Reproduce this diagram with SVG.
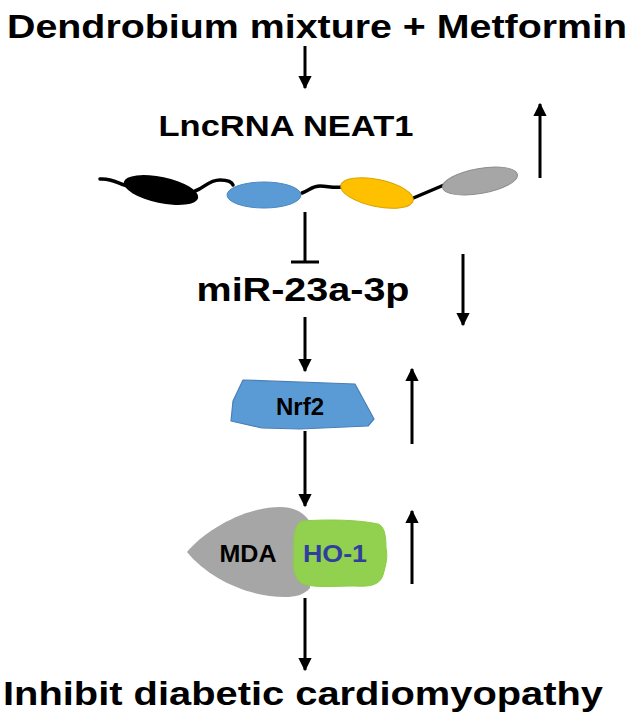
<svg xmlns="http://www.w3.org/2000/svg" width="633" height="726" viewBox="0 0 633 726">
<defs>
<marker id="ah" viewBox="0 0 10 10" refX="9" refY="5" markerWidth="4.6" markerHeight="4.4" orient="auto" markerUnits="strokeWidth">
<path d="M0,0 L10,5 L0,10 Z" fill="#000"/>
</marker>
</defs>
<style>
.t{font-family:"Liberation Sans",Arial,sans-serif;font-weight:bold;fill:#000}
.c{stroke:#000;stroke-width:3;fill:none}
.a{stroke:#000;stroke-width:3;fill:none;marker-end:url(#ah)}
.rna{stroke:#000;stroke-width:3.5;fill:none;stroke-linecap:round}
</style>
<rect width="633" height="726" fill="#fff"/>

<g id="drug"><text class="t" x="317" y="38" font-size="34" text-anchor="middle" textLength="620" lengthAdjust="spacingAndGlyphs">Dendrobium mixture + Metformin</text></g>

<g id="neat1">
<text class="t" x="286" y="136" font-size="30" text-anchor="middle" textLength="255" lengthAdjust="spacingAndGlyphs">LncRNA NEAT1</text>
<path class="rna" d="M100,179 C115,178 120,186 130,186"/>
<path class="rna" d="M195,191 C205,188 208,180 220,180 C228,180 232,182 233,185"/>
<path class="rna" d="M302,193 C310,190 312,186 320,186 C328,186 332,188 342,187"/>
<path class="rna" d="M411,199 L444,185"/>
<ellipse cx="161" cy="190" rx="38" ry="13" transform="rotate(12 161 190)" fill="#000"/>
<ellipse cx="264" cy="195" rx="37" ry="13" fill="#5b9bd5" stroke="#4a86c0" stroke-width="1"/>
<ellipse cx="377" cy="193" rx="37" ry="13.5" transform="rotate(12 377 193)" fill="#ffc000" stroke="#d9a300" stroke-width="1"/>
<ellipse cx="480" cy="181" rx="38" ry="12.5" transform="rotate(-10 480 181)" fill="#a6a6a6" stroke="#8e8e8e" stroke-width="1"/>
</g>

<g id="mir"><text class="t" x="303" y="301" font-size="33" text-anchor="middle" textLength="213" lengthAdjust="spacingAndGlyphs">miR-23a-3p</text></g>

<g id="nrf2">
<path d="M243,380 L355,384 L374,419 L368,426 L300,429 L262,428 L231,421 L233,401 Z" fill="#5b9bd5" stroke="#4a7fb5" stroke-width="1.2" stroke-linejoin="round"/>
<text class="t" x="300" y="415" font-size="24" text-anchor="middle">Nrf2</text>
</g>

<g id="mda">
<path d="M187,552 C205,530 245,507 280,507 C296,507 305,514 310,522 L310,588 C304,595 295,597 285,597 C250,597 210,580 187,552 Z" fill="#a6a6a6"/>
<text class="t" x="248" y="562" font-size="24" text-anchor="middle" textLength="57" lengthAdjust="spacingAndGlyphs">MDA</text>
</g>

<g id="ho1">
<path d="M302,521 C330,519 360,520 378,524 C385,526 386,538 386,548 C388,556 386,565 383,575 C380,585 370,587 355,586 C335,586 315,588 303,584 C294,580 292,565 294,552 C293,538 294,524 302,521 Z" fill="#92d050" stroke="#8ccd45" stroke-width="1"/>
<text class="t" x="335" y="562" font-size="24" text-anchor="middle" textLength="64" lengthAdjust="spacingAndGlyphs" style="fill:#2f3f9e">HO-1</text>
</g>

<g id="outcome"><text class="t" x="303" y="705" font-size="33" text-anchor="middle" textLength="600" lengthAdjust="spacingAndGlyphs">Inhibit diabetic cardiomyopathy</text></g>

<g id="connectors">
<line class="a" x1="305" y1="46" x2="305" y2="88"/>
<line class="c" x1="305" y1="212" x2="305" y2="262"/>
<line class="c" x1="291" y1="262" x2="319" y2="262"/>
<line class="a" x1="305" y1="317" x2="305" y2="371"/>
<line class="a" x1="305" y1="431" x2="305" y2="506"/>
<line class="a" x1="305" y1="598" x2="305" y2="670"/>
<line class="a" x1="540" y1="178" x2="540" y2="104"/>
<line class="a" x1="463" y1="254" x2="463" y2="325"/>
<line class="a" x1="412" y1="444" x2="412" y2="369"/>
<line class="a" x1="412" y1="584" x2="412" y2="511"/>
</g>
</svg>
